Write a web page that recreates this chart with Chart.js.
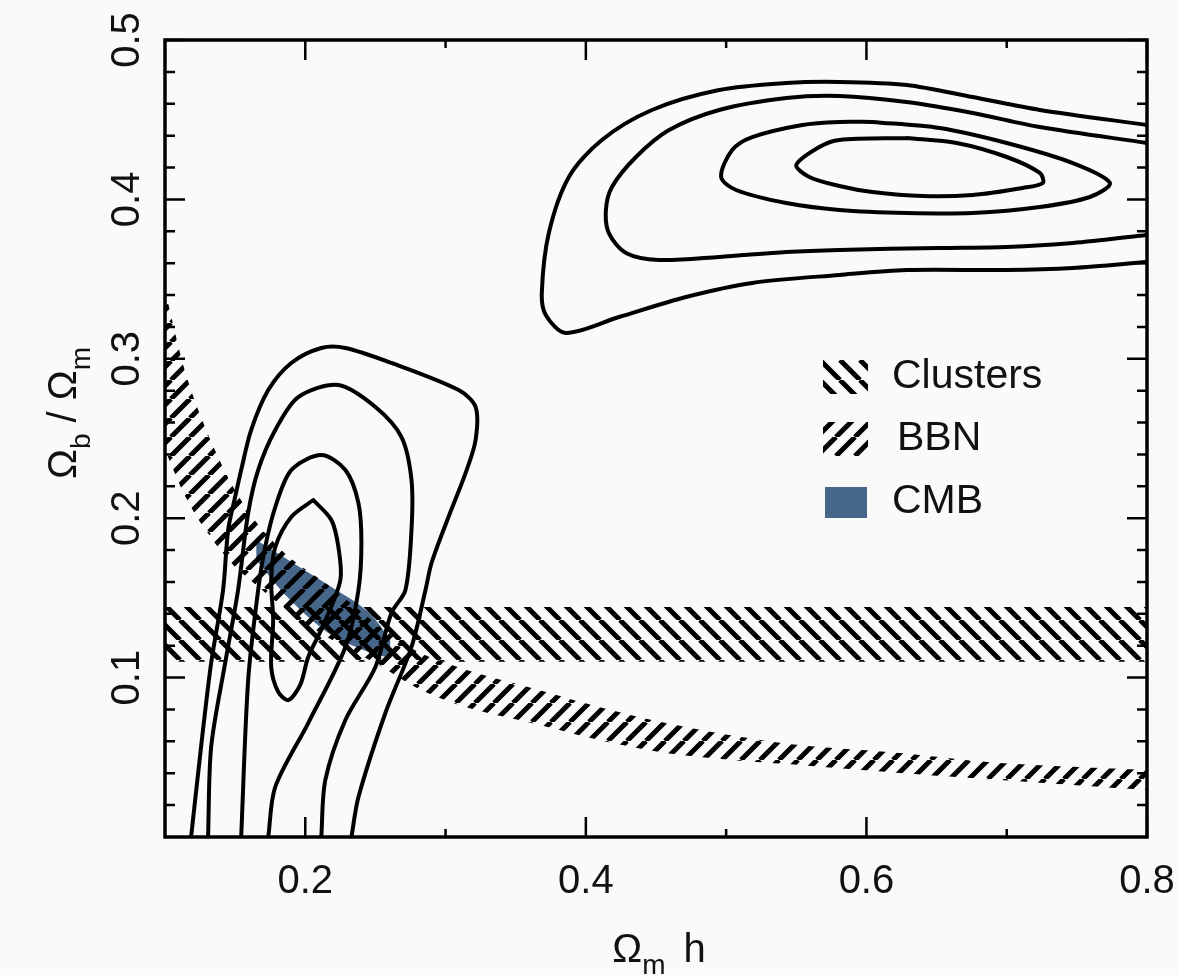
<!DOCTYPE html>
<html>
<head>
<meta charset="utf-8">
<script src="https://cdn.jsdelivr.net/npm/chart.js@4.4.1/dist/chart.umd.min.js"></script>
<style>
  html, body { margin: 0; padding: 0; background: #fafafa; }
  .chart-wrapper { position: relative; width: 1178px; height: 975px; }
</style>
</head>
<body>
<div class="chart-wrapper"><canvas id="chart"></canvas></div>
<script>
// ---- axis ticks ----
const xTicks      = [0.2, 0.4, 0.6, 0.8];
const xMinorTicks = [0.3, 0.5, 0.7];
const yTicks      = [0.1, 0.2, 0.3, 0.4, 0.5];
const yMinorTicks = [0.02, 0.04, 0.06, 0.08, 0.12, 0.14, 0.16, 0.18, 0.22, 0.24, 0.26, 0.28,
                     0.32, 0.34, 0.36, 0.38, 0.42, 0.44, 0.46, 0.48];

// ---- high-Ωm contours (upper right) ----
const highOuterX = [0.80, 0.7236, 0.6757, 0.6286, 0.5807, 0.5429, 0.495, 0.4471, 0.4114, 0.3879, 0.3736, 0.3686, 0.3714, 0.3857, 0.4236, 0.4714, 0.5186, 0.5807, 0.6286, 0.70, 0.7471, 0.80];
const highOuterY = [0.4467, 0.4561, 0.4642, 0.4718, 0.4737, 0.4730, 0.4686, 0.4561, 0.4373, 0.4141, 0.3789, 0.3413, 0.3275, 0.3162, 0.3262, 0.3388, 0.3476, 0.3526, 0.3557, 0.3557, 0.3570, 0.3607];
const highSecondX = [0.80, 0.7236, 0.6757, 0.6286, 0.5807, 0.5429, 0.495, 0.4593, 0.4357, 0.4186, 0.4143, 0.4164, 0.4286, 0.4521, 0.495, 0.5429, 0.5807, 0.6521, 0.70, 0.7471, 0.80];
const highSecondY = [0.4354, 0.4454, 0.4542, 0.4611, 0.4649, 0.4636, 0.4561, 0.4435, 0.4266, 0.4078, 0.3934, 0.3789, 0.3664, 0.3620, 0.3639, 0.3670, 0.3683, 0.3695, 0.3701, 0.3726, 0.3777];
const highThirdX = [0.6043, 0.6521, 0.70, 0.7471, 0.7736, 0.7593, 0.7236, 0.6757, 0.6286, 0.5807, 0.5429, 0.5071, 0.4964, 0.5043, 0.5186, 0.5543, 0.5807, 0.6043];
const highThirdY = [0.4486, 0.4448, 0.4354, 0.4228, 0.4103, 0.4015, 0.3952, 0.3915, 0.3915, 0.3934, 0.3977, 0.4059, 0.4141, 0.4310, 0.4391, 0.4467, 0.4486, 0.4486];
const highInnerX = [0.6286, 0.6643, 0.70, 0.7236, 0.7257, 0.7114, 0.6757, 0.64, 0.6043, 0.5807, 0.5593, 0.55, 0.5664, 0.5807, 0.6286];
const highInnerY = [0.4385, 0.4354, 0.4266, 0.4166, 0.4103, 0.4072, 0.4028, 0.4021, 0.4046, 0.4084, 0.4141, 0.4216, 0.4329, 0.4373, 0.4385];

// ---- low-Ωm contours (left) ----
const lowOuterX = [0.1186, 0.1257, 0.1329, 0.1414, 0.1450, 0.1500, 0.1543, 0.1614, 0.1736, 0.1900, 0.2114, 0.2286, 0.2614, 0.3093, 0.3214, 0.3214, 0.3143, 0.3021, 0.2900, 0.2857, 0.2757, 0.2571, 0.2379, 0.2329];
const lowOuterY = [0, 0.0565, 0.1092, 0.1550, 0.1926, 0.2133, 0.2302, 0.2553, 0.2804, 0.2974, 0.3068, 0.3068, 0.2974, 0.2804, 0.2698, 0.2491, 0.2284, 0.2008, 0.1719, 0.1550, 0.1192, 0.0778, 0.0251, 0];
const lowSecondX = [0.1307, 0.1329, 0.1429, 0.1521, 0.1593, 0.1664, 0.1786, 0.1950, 0.2236, 0.2500, 0.2686, 0.2757, 0.2757, 0.2714, 0.2614, 0.2500, 0.2286, 0.2143, 0.2114];
const lowSecondY = [0, 0.0565, 0.1092, 0.1550, 0.2033, 0.2302, 0.2553, 0.2760, 0.2836, 0.2698, 0.2509, 0.2240, 0.1926, 0.1550, 0.1405, 0.1067, 0.0734, 0.0358, 0];
const lowThirdX = [0.1543, 0.1593, 0.1664, 0.1714, 0.1786, 0.1900, 0.2114, 0.2286, 0.2379, 0.2400, 0.2379, 0.2286, 0.2021, 0.1786, 0.1736];
const lowThirdY = [0, 0.0985, 0.1550, 0.1819, 0.2070, 0.2302, 0.2396, 0.2302, 0.2095, 0.1844, 0.1550, 0.1192, 0.0715, 0.0314, 0];
const lowInnerX = [0.2057, 0.2186, 0.2236, 0.2250, 0.2129, 0.2021, 0.1964, 0.1879, 0.1807, 0.1757, 0.1771, 0.1757, 0.1786, 0.1900, 0.2057];
const lowInnerY = [0.2114, 0.1989, 0.1819, 0.1612, 0.1330, 0.1129, 0.0954, 0.0859, 0.0910, 0.1067, 0.1361, 0.1612, 0.1819, 0.2008, 0.2114];

// ---- constraint bands ----
const clustersX     = [0.1, 0.8];
const clustersUpper = [0.1443, 0.1443];
const clustersLower = [0.1100, 0.1100];

const bbnX     = [0.10, 0.1143, 0.1286, 0.1471, 0.1664, 0.1879, 0.2164, 0.2521, 0.2807, 0.3143, 0.3614, 0.4093, 0.4571, 0.5043, 0.5521, 0.6236, 0.695, 0.80];
const bbnUpper = [0.343, 0.292, 0.257, 0.222, 0.196, 0.176, 0.158, 0.133, 0.116, 0.105, 0.0935, 0.0816, 0.0715, 0.0637, 0.0577, 0.0527, 0.0464, 0.042];
const bbnLower = [0.243, 0.214, 0.193, 0.172, 0.157, 0.142, 0.125, 0.108, 0.093, 0.0816, 0.0715, 0.0609, 0.0527, 0.0483, 0.0452, 0.0402, 0.0358, 0.0295];

const cmbX     = [0.165, 0.1879, 0.2164, 0.245, 0.2607];
const cmbUpper = [0.1863, 0.1738, 0.1581, 0.1412, 0.1236];
const cmbLower = [0.1738, 0.1499, 0.1280, 0.1161, 0.1123];

const cmbBlue = '#46678a';
const fontFamily = "'Liberation Sans', Arial, Helvetica, sans-serif";

const pts = (xs, ys) => xs.map((x, i) => ({ x: x, y: ys[i] }));

// Hatch pattern: dir 1 = "\" , dir -1 = "/"
function makeHatch(dir, size, width) {
  const c = document.createElement('canvas');
  c.width = size; c.height = size;
  const g = c.getContext('2d');
  g.strokeStyle = '#000';
  g.lineWidth = width;
  g.beginPath();
  for (let k = -1; k <= 1; k++) {
    if (dir > 0) { g.moveTo(k * size, 0); g.lineTo(k * size + size, size); }
    else { g.moveTo(k * size, size); g.lineTo(k * size + size, 0); }
  }
  g.stroke();
  return document.createElement('canvas').getContext('2d').createPattern(c, 'repeat');
}

const clustersHatch = makeHatch(1, 20, 5);
const bbnHatch = makeHatch(-1, 19, 5);

function contour(xs, ys) {
  return {
    data: pts(xs, ys),
    borderColor: '#000',
    borderWidth: 4,
    borderJoinStyle: 'round',
    borderCapStyle: 'round',
    tension: 0.3,
    pointRadius: 0,
    fill: false,
    order: 0
  };
}

function bandEdge(xs, ys, fill, color, order) {
  return {
    data: pts(xs, ys),
    borderColor: 'rgba(0,0,0,0)',
    borderWidth: 1,
    tension: 0.3,
    pointRadius: 0,
    fill: fill,
    backgroundColor: color,
    order: order
  };
}

// draws a run of text parts (main text + subscripts)
function drawRich(ctx, parts, x, y) {
  let total = 0;
  parts.forEach(p => {
    ctx.font = p.size + 'px ' + fontFamily;
    p.w = ctx.measureText(p.t).width + (p.gap || 0);
    total += p.w;
  });
  let cx = x - total / 2;
  parts.forEach(p => {
    ctx.font = p.size + 'px ' + fontFamily;
    ctx.fillText(p.t, cx, y + (p.dy || 0));
    cx += p.w;
  });
}

const framePlugin = {
  id: 'framePlugin',
  afterDatasetsDraw(chart) {
    const { ctx, chartArea: a, scales: { x, y } } = chart;
    ctx.save();
    ctx.strokeStyle = '#000';
    ctx.lineCap = 'butt';
    ctx.lineWidth = 2.5;
    ctx.beginPath();
    const tickX = (v, len) => {
      const px = x.getPixelForValue(v);
      ctx.moveTo(px, a.bottom); ctx.lineTo(px, a.bottom - len);
      ctx.moveTo(px, a.top); ctx.lineTo(px, a.top + len);
    };
    const tickY = (v, len) => {
      const py = y.getPixelForValue(v);
      ctx.moveTo(a.left, py); ctx.lineTo(a.left + len, py);
      ctx.moveTo(a.right, py); ctx.lineTo(a.right - len, py);
    };
    xTicks.forEach(v => tickX(v, 20));
    xMinorTicks.forEach(v => tickX(v, 8));
    yTicks.forEach(v => tickY(v, 20));
    yMinorTicks.forEach(v => tickY(v, 10));
    ctx.stroke();
    ctx.lineWidth = 3.5;
    ctx.strokeRect(a.left, a.top, a.right - a.left, a.bottom - a.top);
    ctx.restore();
  },
  afterDraw(chart) {
    const { ctx, chartArea: a } = chart;
    ctx.save();
    ctx.fillStyle = '#111';
    ctx.textBaseline = 'alphabetic';

    // x title: Ωm h
    drawRich(ctx, [
      { t: 'Ω', size: 40 },
      { t: 'm', size: 28, dy: 12, gap: 18 },
      { t: 'h', size: 40 }
    ], (a.left + a.right) / 2 + 3, 962);

    // y title: Ωb / Ωm (rotated)
    ctx.save();
    ctx.translate(76, 413);
    ctx.rotate(-Math.PI / 2);
    drawRich(ctx, [
      { t: 'Ω', size: 40 },
      { t: 'b', size: 28, dy: 14 },
      { t: ' / ', size: 40 },
      { t: 'Ω', size: 40 },
      { t: 'm', size: 28, dy: 14 }
    ], 0, 0);
    ctx.restore();

    // legend
    const legendItems = [
      { label: 'Clusters', fill: clustersHatch, box: [823, 360, 45, 34], tx: 892, ty: 377 },
      { label: 'BBN', fill: bbnHatch, box: [823, 422, 45, 34], tx: 897, ty: 439 },
      { label: 'CMB', fill: cmbBlue, box: [825, 487, 42, 31], tx: 892, ty: 502 }
    ];
    ctx.font = '41px ' + fontFamily;
    ctx.textBaseline = 'middle';
    legendItems.forEach(item => {
      const [bx, by, bw, bh] = item.box;
      ctx.fillStyle = item.fill;
      ctx.fillRect(bx, by, bw, bh);
      ctx.fillStyle = '#111';
      ctx.fillText(item.label, item.tx, item.ty);
    });
    ctx.restore();
  }
};

new Chart(document.getElementById('chart'), {
  type: 'line',
  data: {
    datasets: [
      contour(highOuterX, highOuterY),
      contour(highSecondX, highSecondY),
      contour(highThirdX, highThirdY),
      contour(highInnerX, highInnerY),
      contour(lowOuterX, lowOuterY),
      contour(lowSecondX, lowSecondY),
      contour(lowThirdX, lowThirdY),
      contour(lowInnerX, lowInnerY),
      bandEdge(clustersX, clustersUpper, '+1', clustersHatch, 1),
      bandEdge(clustersX, clustersLower, false, 'rgba(0,0,0,0)', 1),
      bandEdge(bbnX, bbnUpper, '+1', bbnHatch, 1),
      bandEdge(bbnX, bbnLower, false, 'rgba(0,0,0,0)', 1),
      bandEdge(cmbX, cmbUpper, '+1', cmbBlue, 2),
      bandEdge(cmbX, cmbLower, false, 'rgba(0,0,0,0)', 2)
    ]
  },
  options: {
    responsive: true,
    maintainAspectRatio: false,
    animation: false,
    events: [],
    layout: { padding: { left: 0, right: 31, top: 40, bottom: 0 } },
    plugins: {
      legend: { display: false },
      tooltip: { enabled: false }
    },
    scales: {
      x: {
        type: 'linear',
        min: 0.1,
        max: 0.8,
        grid: { display: false },
        border: { display: false },
        afterBuildTicks: scale => { scale.ticks = xTicks.map(v => ({ value: v })); },
        afterFit: scale => {
          scale.height = 138;
          scale.paddingLeft = 0;
          scale.paddingRight = 0;
        },
        ticks: {
          color: '#111',
          padding: 13,
          maxRotation: 0,
          font: { family: fontFamily, size: 40 },
          callback: v => v.toFixed(1)
        }
      },
      y: {
        type: 'linear',
        min: 0,
        max: 0.5,
        grid: { display: false },
        border: { display: false },
        afterBuildTicks: scale => { scale.ticks = yTicks.map(v => ({ value: v })); },
        afterFit: scale => {
          scale.width = 165;
          scale.paddingTop = 0;
          scale.paddingBottom = 0;
        },
        ticks: {
          color: '#111',
          padding: 1,
          minRotation: 90,
          maxRotation: 90,
          crossAlign: 'center',
          font: { family: fontFamily, size: 40 },
          callback: v => v.toFixed(1)
        }
      }
    }
  },
  plugins: [framePlugin]
});
</script>
</body>
</html>
